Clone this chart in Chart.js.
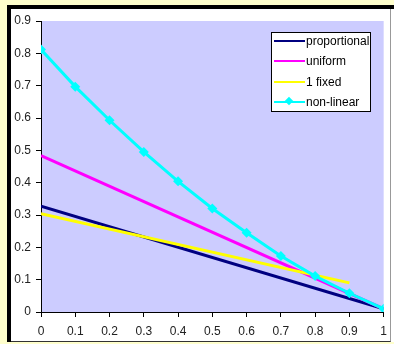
<!DOCTYPE html>
<html>
<head>
<meta charset="utf-8">
<script src="https://cdn.jsdelivr.net/npm/chart.js@4.4.0/dist/chart.umd.min.js"></script>
<style>
  html, body { margin:0; padding:0; }
  body { width:394px; height:344px; background:#FFFFCC; position:relative; overflow:hidden; font-family:"Liberation Sans", Arial, sans-serif; }
  #frame { position:absolute; left:7px; top:5px; width:387px; height:337px; border-top:4px solid #000; border-left:4px solid #000; box-sizing:border-box; background:#fff; }
  #inner { position:absolute; left:0; top:0; width:379px; height:332px; border-right:1px solid #999; border-bottom:1px solid #333; }
  #wrap { position:absolute; left:0; top:0; width:394px; height:344px; }
  #legend { position:absolute; left:271px; top:32px; width:100px; height:80px; box-sizing:border-box; border:1px solid #000; background:#fff; font-size:12px; color:#000; }
  #legend .row { position:relative; height:20.3px; line-height:20.3px; margin-left:1px; white-space:nowrap; }
  #legend .row:first-child { margin-top:-2px; }
  #legend .ln { position:absolute; left:1px; top:9px; width:31px; height:2px; }
  #legend .mk { position:absolute; left:13px; top:6px; width:6px; height:6px; transform:rotate(45deg); }
  #legend .tx { position:absolute; left:33px; top:0; }
</style>
</head>
<body>
<div id="frame"><div id="inner"></div></div>
<div id="wrap"><canvas id="chart" width="394" height="344"></canvas></div>
<div id="legend"></div>
<script>
(function(){
  // ---------- data ----------
  const seriesNames = ["proportional", "uniform", "1 fixed", "non-linear"];
  const seriesColors = ["#000080", "#FF00FF", "#FFFF00", "#00FFFF"];

  const propX = [0, 1];
  const propY = [0.327, 0.01];

  const unifX = [0, 1];
  const unifY = [0.484, 0.01];

  const fixedX = [0, 0.9];
  const fixedY = [0.304, 0.09];

  const nonlinX = [0, 0.1, 0.2, 0.3, 0.4, 0.5, 0.6, 0.7, 0.8, 0.9, 1];
  const nonlinY = [0.812, 0.697, 0.593, 0.495, 0.404, 0.32, 0.245, 0.173, 0.111, 0.058, 0.01];

  const yTicks = [0, 0.1, 0.2, 0.3, 0.4, 0.5, 0.6, 0.7, 0.8, 0.9];
  const xTicks = [0, 0.1, 0.2, 0.3, 0.4, 0.5, 0.6, 0.7, 0.8, 0.9, 1];

  function pts(xs, ys){ return xs.map((x,i)=>({x:x, y:ys[i]})); }

  const plotBg = {
    id:"plotBg",
    beforeDraw(chart){
      const a = chart.chartArea, c = chart.ctx;
      c.save();
      c.fillStyle = "#CCCCFF";
      c.fillRect(a.left, a.top, a.right - a.left, a.bottom - a.top);
      c.restore();
    }
  };

  Chart.defaults.font.family = "'Liberation Sans', Arial, sans-serif";
  Chart.defaults.font.size = 12;
  Chart.defaults.color = "#222";

  const lineDs = (i, data, order, extra) => Object.assign({
    label: seriesNames[i],
    data: data,
    borderColor: seriesColors[i],
    backgroundColor: seriesColors[i],
    borderWidth: 3,
    pointRadius: 0,
    tension: 0,
    fill: false,
    order: order
  }, extra || {});

  const chart = new Chart(document.getElementById("chart"), {
    type: "line",
    data: {
      datasets: [
        lineDs(0, pts(propX, propY), 4),
        lineDs(1, pts(unifX, unifY), 3),
        lineDs(2, pts(fixedX, fixedY), 2),
        lineDs(3, pts(nonlinX, nonlinY), 1, { pointRadius: 5, pointStyle: "rectRot", pointBorderWidth: 0 })
      ]
    },
    options: {
      responsive: false,
      animation: false,
      layout: { padding: { left: 0, right: 10, top: 21, bottom: 0 } },
      plugins: { legend: { display: false }, tooltip: { enabled: false } },
      scales: {
        x: {
          type: "linear",
          min: 0, max: 1,
          afterBuildTicks: s => { s.ticks = xTicks.map(v=>({value:v})); },
          afterFit: s => { s.height = 32; },
          ticks: { padding: 7, callback: v => String(+v.toFixed(1)), maxRotation: 0, autoSkip: false },
          grid: { drawOnChartArea: false, drawTicks: true, tickLength: 5, color: "#000" },
          border: { display: true, color: "#000", width: 1 }
        },
        y: {
          type: "linear",
          min: 0, max: 0.9,
          afterBuildTicks: s => { s.ticks = yTicks.map(v=>({value:v})); },
          afterFit: s => { s.width = 41; },
          ticks: { padding: 5, callback: v => String(+v.toFixed(1)), autoSkip: false },
          grid: { drawOnChartArea: false, drawTicks: true, tickLength: 5, color: "#000" },
          border: { display: true, color: "#000", width: 1 }
        }
      }
    },
    plugins: [plotBg]
  });

  // ---------- legend ----------
  const lg = document.getElementById("legend");
  chart.data.datasets.forEach((ds, i)=>{
    const row = document.createElement("div");
    row.className = "row";
    let html = `<span class="ln" style="background:${ds.borderColor}"></span>`;
    if(ds.pointRadius) html += `<span class="mk" style="background:${ds.borderColor}"></span>`;
    html += `<span class="tx">${ds.label}</span>`;
    row.innerHTML = html;
    lg.appendChild(row);
  });
})();
</script>
</body>
</html>
